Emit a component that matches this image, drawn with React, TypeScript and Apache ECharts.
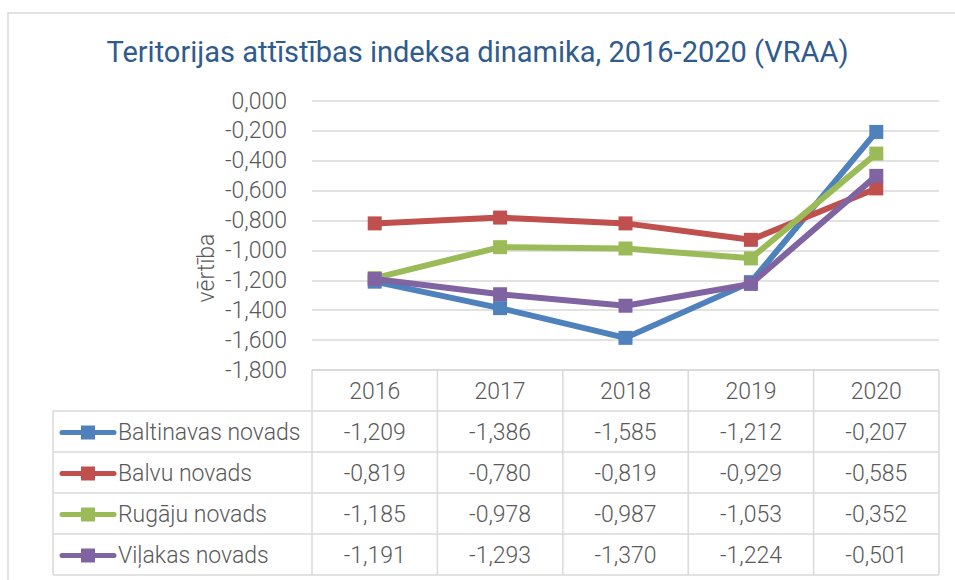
import React, { useEffect, useRef } from "react";
import * as echarts from "echarts";

const titleText = "Teritorijas attīstības indeksa dinamika, 2016-2020 (VRAA)";
const yAxisName = "vērtība";
const years = ["2016", "2017", "2018", "2019", "2020"];
const seriesNames = ["Baltinavas novads", "Balvu novads", "Rugāju novads", "Viļakas novads"];
const baltinavas = [-1.209, -1.386, -1.585, -1.212, -0.207];
const balvu = [-0.819, -0.78, -0.819, -0.929, -0.585];
const rugaju = [-1.185, -0.978, -0.987, -1.053, -0.352];
const vilakas = [-1.191, -1.293, -1.37, -1.224, -0.501];
const seriesValues = [baltinavas, balvu, rugaju, vilakas];
const colors = ["#4F81BD", "#C0504D", "#9BBB59", "#8064A2"];

const FONT = "Roboto";
const TEXT_COLOR = "#595959";
const LINE_COLOR = "#D9D9D9";
const WEIGHT = 300;

const fmt = (v: number) => {
  const s = Math.abs(v).toFixed(3).replace(".", ",");
  return (v < 0 ? "-" : "") + s;
};

export default function App() {
  const ref = useRef<HTMLDivElement>(null);
  useEffect(() => {
    if (!ref.current) return;
    const chart = echarts.init(ref.current, null, { renderer: "svg" });
    const gridLeft = 312;
    const gridRight = 16;
    const gridTop = 101;
    const gridBottom = 210;
    chart.setOption({
      animation: false,
      title: {
        text: titleText,
        left: "center",
        top: 32,
        textStyle: { color: "#2F5B8E", fontFamily: FONT, fontSize: 29, fontWeight: "normal" },
      },
      grid: { left: gridLeft, right: gridRight, top: gridTop, bottom: gridBottom, containLabel: false },
      xAxis: {
        type: "category",
        data: years,
        axisLabel: { show: false },
        axisLine: { show: false },
        axisTick: { show: false },
      },
      yAxis: {
        type: "value",
        min: -1.8,
        max: 0,
        interval: 0.2,
        axisLabel: {
          color: TEXT_COLOR,
          fontFamily: FONT,
          fontWeight: WEIGHT,
          fontSize: 23,
          margin: 25,
          formatter: (v: number) => fmt(v),
        },
        axisLine: { show: false },
        axisTick: { show: false },
        splitLine: { lineStyle: { color: LINE_COLOR, width: 1.5 } },
      },
      series: seriesValues.map((vals, i) => ({
        name: seriesNames[i],
        type: "line",
        data: vals,
        symbol: "rect",
        symbolSize: 14,
        showSymbol: true,
        lineStyle: { width: 6, color: colors[i] },
        itemStyle: { color: colors[i] },
        z: 2 + i,
      })),
    });

    const W = chart.getWidth();
    const H = chart.getHeight();
    const tableTop = H - gridBottom;
    const rowH = 41;
    const colW = (W - gridLeft - gridRight) / years.length;
    const xLeft = gridLeft;
    const xRight = W - gridRight;
    const legendLeft = 53;
    const centers = years.map((_, i) => chart.convertToPixel({ xAxisIndex: 0 }, i) as number);
    const g: any[] = [];
    const lineStyle = { stroke: LINE_COLOR, lineWidth: 1.5 };
    const font = `${WEIGHT} 23px ${FONT}`;
    g.push({ type: "rect", shape: { x: 8, y: 13, width: W + 20, height: H + 20 }, style: { fill: "none", ...lineStyle } });
    g.push({ type: "line", shape: { x1: xLeft, y1: tableTop, x2: xRight, y2: tableTop }, style: lineStyle });
    for (let r = 1; r <= seriesNames.length + 1; r++) {
      const y = tableTop + r * rowH;
      g.push({ type: "line", shape: { x1: legendLeft, y1: y, x2: xRight, y2: y }, style: lineStyle });
    }
    for (let c = 0; c <= years.length; c++) {
      const x = xLeft + c * colW;
      g.push({ type: "line", shape: { x1: x, y1: tableTop, x2: x, y2: tableTop + rowH * (seriesNames.length + 1) }, style: lineStyle });
    }
    g.push({ type: "line", shape: { x1: legendLeft, y1: tableTop + rowH, x2: legendLeft, y2: tableTop + rowH * (seriesNames.length + 1) }, style: lineStyle });
    years.forEach((yr, i) => {
      g.push({
        type: "text",
        x: centers[i],
        y: tableTop + rowH / 2 + 1,
        style: { text: yr, fill: TEXT_COLOR, font, textAlign: "center", textVerticalAlign: "middle" },
      });
    });
    seriesNames.forEach((name, r) => {
      const cy = tableTop + rowH * (r + 1) + rowH / 2 + 1;
      g.push({ type: "line", shape: { x1: 62, y1: cy, x2: 114, y2: cy }, style: { stroke: colors[r], lineWidth: 5, lineCap: "round" } });
      g.push({ type: "rect", shape: { x: 81, y: cy - 7, width: 14, height: 14 }, style: { fill: colors[r] } });
      g.push({
        type: "text",
        x: 118,
        y: cy,
        style: { text: name, fill: TEXT_COLOR, font, textAlign: "left", textVerticalAlign: "middle" },
      });
      seriesValues[r].forEach((v, i) => {
        g.push({
          type: "text",
          x: centers[i],
          y: cy,
          style: { text: fmt(v), fill: TEXT_COLOR, font, textAlign: "center", textVerticalAlign: "middle" },
        });
      });
    });
    g.push({
      type: "text",
      x: 206,
      y: 268,
      rotation: Math.PI / 2,
      style: { text: yAxisName, fill: TEXT_COLOR, font, textAlign: "center", textVerticalAlign: "middle" },
    });
    chart.setOption({ graphic: g });
    return () => chart.dispose();
  }, []);
  return <div ref={ref} style={{ position: "absolute", left: 0, top: 0, width: 955, height: 580 }} />;
}
